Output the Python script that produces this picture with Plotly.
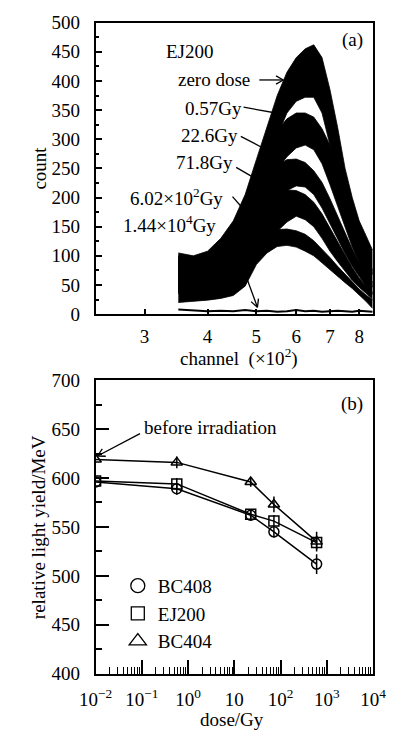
import math
import plotly.graph_objects as go

W, H = 399, 742
def px(x):
    return x / W
def py(y):
    return 1 - y / H

FONT = "Liberation Serif"
FS = 19

# ---------------- panel (a) : EJ200 pulse-height spectra ----------------
channel = [3.5, 3.75, 4.0, 4.25, 4.5, 4.75, 5.0, 5.25, 5.5, 5.75, 6.0,
           6.25, 6.5, 6.75, 7.0, 7.25, 7.5, 7.75, 8.0, 8.25, 8.5]

zero_hi = [105, 100, 108, 130, 160, 205, 265, 320, 375, 415, 440, 455, 462, 440, 385, 320, 250, 200, 160, 135, 110]
zero_lo = [45, 50, 58, 80, 110, 150, 200, 250, 305, 345, 365, 372, 372, 345, 290, 240, 195, 155, 122, 95, 68]

g057_hi = [100, 98, 104, 122, 150, 185, 230, 275, 315, 335, 345, 345, 338, 318, 290, 250, 205, 162, 126, 98, 76]
g057_lo = [40, 45, 52, 70, 98, 130, 170, 215, 248, 270, 285, 290, 282, 258, 222, 185, 148, 115, 88, 66, 46]

g226_hi = [98, 95, 100, 115, 140, 170, 205, 235, 255, 265, 266, 260, 246, 226, 198, 168, 138, 112, 88, 70, 55]
g226_lo = [38, 42, 48, 62, 88, 118, 150, 175, 195, 212, 220, 218, 205, 182, 155, 128, 104, 82, 64, 48, 34]

g718_hi = [95, 92, 97, 110, 130, 155, 180, 200, 210, 213, 212, 205, 192, 172, 148, 124, 100, 80, 62, 48, 38]
g718_lo = [35, 40, 45, 58, 80, 100, 120, 135, 142, 158, 168, 162, 150, 130, 108, 90, 73, 58, 46, 36, 26]

g602_hi = [92, 90, 94, 100, 110, 120, 132, 140, 145, 146, 143, 137, 126, 112, 97, 82, 68, 55, 43, 33, 25]
g602_lo = [20, 22, 24, 27, 32, 48, 85, 105, 116, 118, 115, 108, 100, 88, 76, 64, 54, 44, 33, 22, 10]

g144e4 = [8, 6, 5, 6, 5, 7, 5, 6, 4, 5, 7, 5, 6, 4, 5, 6, 5, 4, 6, 5, 4]

# ---------------- panel (b) : relative light yield ----------------
dose = [0.01, 0.57, 22.6, 71.8, 602]
bc408 = [596, 589, 562, 545, 512]
ej200 = [597, 594, 563, 556, 534]
bc404 = [619, 616, 596, 573, 535]
bc408_err = [0, 6, 5, 6, 10]
ej200_err = [0, 6, 5, 6, 7]
bc404_err = [0, 6, 5, 8, 10]
names = ["BC408", "EJ200", "BC404"]

dose_ticks = [0.01, 0.1, 1, 10, 100, 1000, 10000]
dose_ticktext = ["10<sup>\u22122</sup>", "10<sup>\u22121</sup>", "10<sup>0</sup>", "10",
                 "10<sup>2</sup>", "10<sup>3</sup>", "10<sup>4</sup>"]
chan_ticks = [3, 4, 5, 6, 7, 8]

fig = go.Figure()

bands = [(zero_lo, zero_hi), (g057_lo, g057_hi), (g226_lo, g226_hi),
         (g718_lo, g718_hi), (g602_lo, g602_hi)]
for lo, hi in bands:
    fig.add_trace(go.Scatter(x=channel, y=lo, mode="lines", line=dict(color="black", width=0.8),
                             showlegend=False, hoverinfo="skip", xaxis="x", yaxis="y"))
    fig.add_trace(go.Scatter(x=channel, y=hi, mode="lines", line=dict(color="black", width=0.8),
                             fill="tonexty", fillcolor="black",
                             showlegend=False, hoverinfo="skip", xaxis="x", yaxis="y"))
fig.add_trace(go.Scatter(x=channel, y=g144e4, mode="lines", line=dict(color="black", width=2),
                         showlegend=False, xaxis="x", yaxis="y"))

series = [(bc408, bc408_err, "circle-open", 14), (ej200, ej200_err, "square-open", 13),
          (bc404, bc404_err, "triangle-up-open", 15)]
for (vals, err, sym, lsize), name in zip(series, names):
    fig.add_trace(go.Scatter(
        x=dose, y=vals, mode="lines+markers",
        line=dict(color="black", width=1.5),
        marker=dict(symbol=sym, size=10, color="black", line=dict(width=1.5, color="black")),
        error_y=dict(type="data", array=err, visible=True, color="black", thickness=1.5, width=0),
        showlegend=False, xaxis="x2", yaxis="y2"))
    # legend entry (marker only)
    fig.add_trace(go.Scatter(
        x=[None], y=[None], mode="markers", name=name,
        marker=dict(symbol=sym, size=lsize, color="black", line=dict(width=1.3, color="black")),
        showlegend=True, xaxis="x2", yaxis="y2"))

axis_common = dict(showline=True, mirror=True, linecolor="black", linewidth=1.5,
                   showgrid=False, zeroline=False, ticks="inside", tickcolor="black",
                   tickwidth=1.5, tickfont=dict(family=FONT, size=FS, color="black"))

fig.update_layout(
    width=W, height=H, margin=dict(l=0, r=0, t=0, b=0),
    paper_bgcolor="white", plot_bgcolor="white",
    font=dict(family=FONT, size=FS, color="black"),
    showlegend=True,
    legend=dict(x=px(109), y=py(573), xref="paper", yref="paper", xanchor="left", yanchor="top",
                bgcolor="rgba(0,0,0,0)", borderwidth=0, itemsizing="trace", traceorder="normal",
                font=dict(family=FONT, size=FS, color="black"), tracegroupgap=0),
    xaxis=dict(domain=[px(85), px(385)], anchor="y", type="log",
               range=[0.3799, 0.9306], tickmode="array", tickvals=chan_ticks,
               ticktext=[str(t) for t in chan_ticks], ticklen=5, ticklabelstandoff=4,
               **axis_common),
    yaxis=dict(domain=[py(313), py(13)], anchor="x", range=[0, 500], dtick=50,
               ticklen=7, ticklabelstandoff=10,
               minor=dict(ticks="inside", ticklen=4, dtick=25, tickcolor="black", tickwidth=1.5),
               **axis_common),
    xaxis2=dict(domain=[px(85), px(385)], anchor="y2", type="log", range=[-2, 4],
                tickmode="array", tickvals=dose_ticks, ticktext=dose_ticktext,
                ticklen=14, ticklabelstandoff=8,
                minor=dict(ticks="inside", ticklen=7, dtick="D1", tickcolor="black", tickwidth=1.2),
                **axis_common),
    yaxis2=dict(domain=[py(683), py(381)], anchor="x2", range=[400, 700], dtick=50,
                ticklen=14, ticklabelstandoff=10,
                minor=dict(ticks="inside", ticklen=7, dtick=25, tickcolor="black", tickwidth=1.5),
                **axis_common),
)

ann = []
shapes = []
def text(xp, yp, s, xanchor="left", size=FS, angle=0):
    ann.append(dict(x=px(xp), y=py(yp), xref="paper", yref="paper", text=s, showarrow=False,
                    xanchor=xanchor, yanchor="middle", textangle=angle, borderpad=0,
                    font=dict(family=FONT, size=size, color="black")))

def seg(x0, y0, x1, y1, w=1.3):
    shapes.append(dict(type="line", xref="paper", yref="paper",
                       x0=px(x0), y0=py(y0), x1=px(x1), y1=py(y1),
                       line=dict(color="black", width=w)))

def arrow(x0, y0, x1, y1, head=False):
    # tail (x0,y0) -> tip (x1,y1), pixel coordinates
    seg(x0, y0, x1, y1)
    if head:
        L = math.hypot(x1 - x0, y1 - y0)
        ux, uy = (x1 - x0) / L, (y1 - y0) / L
        for s in (1, -1):
            a = math.radians(28) * s
            bx = -(ux * math.cos(a) - uy * math.sin(a))
            by = -(ux * math.sin(a) + uy * math.cos(a))
            seg(x1, y1, x1 + 9 * bx, y1 + 9 * by)

# panel (a) texts
text(160, 43, "EJ200")
text(375, 31, "(a)", xanchor="right")
text(173, 72, "zero dose")
text(181, 101, "0.57Gy")
text(176, 129, "22.6Gy")
text(171, 157, "71.8Gy")
text(121, 192, "6.02\u00d710<sup>2</sup>Gy")
text(113, 220, "1.44\u00d710<sup>4</sup>Gy")
arrow(262, 72, 288, 72, head=True)
arrow(245, 100, 280, 106)
arrow(242, 130, 266, 142)
arrow(237, 162, 257, 173)
arrow(233, 192, 245, 205)
arrow(230, 228, 260, 306, head=True)
text(24, 163, "count", xanchor="center", angle=-90)
text(240, 358, "channel\u00a0\u00a0(\u00d710<sup>2</sup>)", xanchor="center")

# panel (b) texts
text(375, 405, "(b)", xanchor="right")
text(136, 430, "before irradiation")
arrow(133, 436, 87, 459, head=True)
text(24, 532, "relative light yield/MeV", xanchor="center", angle=-90)
text(232, 730, "dose/Gy", xanchor="center")

fig.update_layout(annotations=ann, shapes=shapes)
fig.write_html("out.html")
